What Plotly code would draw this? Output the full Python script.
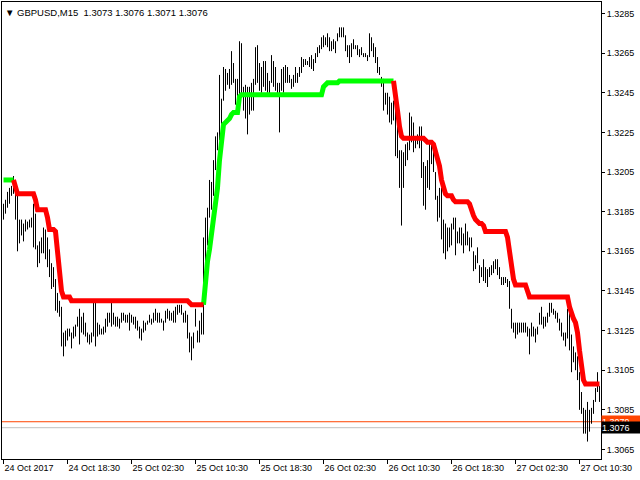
import plotly.graph_objects as go

symbol_header = "\u25BC GBPUSD,M15  1.3073 1.3076 1.3071 1.3076"

highs = [
 1.3189,1.3191,1.3195,1.3197,1.3198,1.3203,1.3200,1.3194,1.3181,1.3181,
 1.3179,1.3181,1.3180,1.3181,1.3182,1.3189,1.3184,1.3168,1.3170,1.3172,
 1.3177,1.3176,1.3172,1.3166,1.3159,1.3157,1.3151,1.3144,1.3140,1.3137,
 1.3124,1.3125,1.3126,1.3126,1.3124,1.3127,1.3128,1.3132,1.3136,1.3132,
 1.3134,1.3129,1.3124,1.3123,1.3124,1.3139,1.3139,1.3129,1.3128,1.3126,
 1.3127,1.3131,1.3134,1.3134,1.3139,1.3134,1.3132,1.3132,1.3131,1.3134,
 1.3134,1.3133,1.3133,1.3134,1.3133,1.3132,1.3132,1.3130,1.3127,1.3126,
 1.3130,1.3129,1.3130,1.3133,
 1.3131,1.3134,1.3136,1.3134,1.3134,1.3131,1.3130,1.3135,1.3136,1.3135,
 1.3134,1.3135,1.3137,1.3138,1.3138,1.3138,1.3134,1.3135,1.3133,1.3124,
 1.3122,1.3124,1.3136,1.3125,1.3130,1.3134,
 1.3172,1.3182,1.3187,1.3201,1.3200,1.3211,1.3223,1.3225,1.3254,1.3242,
 1.3258,1.3257,1.3255,1.3257,1.3266,1.3260,1.3252,1.3252,1.3271,1.3270,
 1.3248,1.3249,1.3248,1.3248,1.3250,1.3252,1.3268,1.3269,1.3260,1.3258,
 1.3261,1.3261,1.3255,1.3251,1.3264,1.3261,1.3258,1.3250,1.3250,1.3257,
 1.3258,1.3259,1.3258,1.3254,1.3252,1.3254,1.3258,1.3255,1.3258,
 1.3263,1.3262,1.3262,1.3261,1.3263,1.3264,1.3262,1.3265,1.3268,1.3269,
 1.3273,1.3274,1.3273,1.3275,1.3273,1.3271,1.3272,1.3271,1.3275,1.3278,
 1.3278,1.3278,1.3274,1.3269,1.3269,1.3270,1.3272,1.3269,1.3269,1.3267,
 1.3268,1.3265,1.3265,1.3264,1.3275,1.3273,1.3270,1.3268,1.3263,1.3258,
 1.3253,1.3252,1.3245,1.3245,1.3243,1.3240,1.3241,1.3239,1.3231,1.3216,
 1.3216,1.3215,1.3219,1.3220,1.3235,1.3233,1.3230,1.3222,1.3224,1.3228,
 1.3228,1.3210,1.3208,1.3211,1.3220,1.3219,1.3217,1.3205,1.3193,1.3197,
 1.3197,1.3181,1.3179,1.3177,1.3177,
 1.3179,1.3182,1.3182,1.3175,1.3177,1.3177,1.3174,1.3179,1.3175,1.3172,
 1.3172,1.3165,1.3163,1.3167,1.3158,1.3157,1.3161,1.3157,1.3156,1.3157,
 1.3158,1.3160,1.3161,1.3161,1.3157,1.3152,1.3152,1.3152,1.3151,1.3150,
 1.3136,1.3129,1.3129,1.3129,1.3129,1.3129,1.3129,1.3129,1.3127,1.3126,
 1.3129,1.3127,1.3126,1.3127,1.3134,1.3137,1.3132,1.3132,1.3134,1.3139,
 1.3139,1.3136,1.3135,1.3134,1.3131,1.3129,1.3124,1.3124,1.3136,1.3136,
 1.3123,1.3117,1.3114,1.3112,1.3104,1.3094,1.3086,1.3085,1.3089,1.3085,
 1.3086,1.3090,1.3096,1.3104,1.3097,
]

lows = [
 1.3181,1.3184,1.3187,1.3189,1.3193,1.3194,1.3181,1.3165,1.3169,1.3173,
 1.3170,1.3175,1.3176,1.3177,1.3177,1.3167,1.3166,1.3157,1.3159,1.3164,
 1.3164,1.3161,1.3157,1.3152,1.3146,1.3147,1.3135,1.3134,1.3132,1.3117,
 1.3112,1.3117,1.3120,1.3122,1.3116,1.3121,1.3122,1.3127,1.3118,1.3124,
 1.3123,1.3122,1.3119,1.3118,1.3119,1.3122,1.3117,1.3122,1.3123,1.3123,
 1.3123,1.3124,1.3127,1.3129,1.3127,1.3128,1.3127,1.3127,1.3126,1.3129,
 1.3130,1.3129,1.3129,1.3125,1.3129,1.3128,1.3126,1.3125,1.3121,1.3120,
 1.3124,1.3125,1.3128,1.3129,
 1.3128,1.3129,1.3130,1.3129,1.3129,1.3129,1.3125,1.3129,1.3131,1.3130,
 1.3130,1.3129,1.3129,1.3133,1.3134,1.3133,1.3129,1.3129,1.3121,1.3114,
 1.3110,1.3116,1.3127,1.3119,1.3119,1.3123,
 1.3123,1.3153,1.3168,1.3182,1.3186,1.3193,1.3206,1.3216,1.3221,1.3221,
 1.3241,1.3246,1.3249,1.3247,1.3249,1.3250,1.3239,1.3236,1.3244,1.3243,
 1.3236,1.3232,1.3224,1.3234,1.3236,1.3236,1.3249,1.3250,1.3246,1.3245,
 1.3248,1.3246,1.3245,1.3244,1.3250,1.3248,1.3246,1.3243,1.3225,1.3246,
 1.3245,1.3250,1.3250,1.3250,1.3247,1.3248,1.3250,1.3250,1.3253,
 1.3255,1.3258,1.3259,1.3259,1.3258,1.3257,1.3256,1.3260,1.3263,1.3265,
 1.3267,1.3268,1.3269,1.3268,1.3266,1.3266,1.3267,1.3265,1.3271,1.3273,
 1.3273,1.3273,1.3266,1.3263,1.3260,1.3263,1.3267,1.3267,1.3264,1.3263,
 1.3264,1.3263,1.3263,1.3261,1.3263,1.3266,1.3263,1.3260,1.3255,1.3254,
 1.3248,1.3236,1.3239,1.3234,1.3230,1.3229,1.3231,1.3213,1.3212,1.3197,
 1.3178,1.3197,1.3208,1.3211,1.3216,1.3220,1.3215,1.3217,1.3219,1.3217,
 1.3202,1.3188,1.3186,1.3197,1.3196,1.3209,1.3205,1.3191,1.3180,1.3182,
 1.3171,1.3164,1.3161,1.3165,1.3167,
 1.3168,1.3176,1.3163,1.3169,1.3169,1.3168,1.3164,1.3168,1.3168,1.3165,
 1.3167,1.3155,1.3156,1.3159,1.3149,1.3152,1.3150,1.3149,1.3147,1.3152,
 1.3153,1.3154,1.3156,1.3153,1.3151,1.3148,1.3148,1.3149,1.3147,1.3136,
 1.3126,1.3124,1.3121,1.3123,1.3124,1.3124,1.3124,1.3124,1.3122,1.3113,
 1.3122,1.3122,1.3119,1.3123,1.3128,1.3128,1.3126,1.3127,1.3129,1.3132,
 1.3134,1.3133,1.3131,1.3129,1.3125,1.3122,1.3120,1.3117,1.3121,1.3115,
 1.3104,1.3109,1.3105,1.3100,1.3085,1.3083,1.3073,1.3073,1.3069,1.3074,
 1.3078,1.3083,1.3089,1.3094,1.3089,
]

indicator = [
 1.3201,1.3201,1.3201,1.3201,1.3201,1.3201,1.3197,1.3194,1.3194,1.3194,
 1.3194,1.3194,1.3194,1.3194,1.3194,1.3194,1.3191,1.3186,1.3186,1.3186,
 1.3186,1.3186,1.3182,1.3176,1.3176,1.3176,1.3175,1.3163,1.3156,1.3145,
 1.3142,1.3142,1.3142,1.3142,1.3140,1.3140,1.3140,1.3140,1.3140,1.3140,
 1.3140,1.3140,1.3140,1.3140,1.3140,1.3140,1.3140,1.3140,1.3140,1.3140,
 1.3140,1.3140,1.3140,1.3140,1.3140,1.3140,1.3140,1.3140,1.3140,1.3140,
 1.3140,1.3140,1.3140,1.3140,1.3140,1.3140,1.3140,1.3140,1.3140,1.3140,
 1.3140,1.3140,1.3140,1.3140,1.3140,1.3140,1.3140,1.3140,1.3140,1.3140,
 1.3140,1.3140,1.3140,1.3140,1.3140,1.3140,1.3140,1.3140,1.3140,1.3140,
 1.3140,1.3140,1.3140,1.3139,1.3138,1.3138,1.3138,1.3138,1.3138,1.3138,
 1.3138,1.3152,1.3160,1.3166,1.3174,1.3186,1.3194,1.3197,1.3211,1.3220,
 1.3229,1.3230,1.3231,1.3232,1.3234,1.3235,1.3235,1.3235,1.3243,1.3244,
 1.3244,1.3244,1.3244,1.3244,1.3244,1.3244,1.3244,1.3244,1.3244,1.3244,
 1.3244,1.3244,1.3244,1.3244,1.3244,1.3244,1.3244,1.3244,1.3244,1.3244,
 1.3244,1.3244,1.3244,1.3244,1.3244,1.3244,1.3244,1.3244,1.3244,1.3244,
 1.3244,1.3244,1.3244,1.3244,1.3244,1.3244,1.3244,1.3244,1.3244,1.3244,
 1.3248,1.3249,1.3250,1.3250,1.3250,1.3250,1.3250,1.3250,1.3251,1.3251,
 1.3251,1.3251,1.3251,1.3251,1.3251,1.3251,1.3251,1.3251,1.3251,1.3251,
 1.3251,1.3251,1.3251,1.3251,1.3251,1.3251,1.3251,1.3251,1.3251,1.3251,
 1.3251,1.3251,1.3251,1.3251,1.3251,1.3251,1.3245,1.3236,1.3228,1.3223,
 1.3222,1.3222,1.3222,1.3222,1.3222,1.3222,1.3222,1.3222,1.3222,1.3222,
 1.3222,1.3221,1.3220,1.3220,1.3220,1.3219,1.3215,1.3213,1.3208,1.3201,
 1.3196,1.3194,1.3193,1.3193,1.3193,1.3191,1.3190,1.3190,1.3190,1.3190,
 1.3190,1.3190,1.3190,1.3189,1.3185,1.3183,1.3181,1.3180,1.3179,1.3179,
 1.3178,1.3175,1.3175,1.3175,1.3175,1.3175,1.3175,1.3175,1.3175,1.3175,
 1.3175,1.3175,1.3172,1.3164,1.3156,1.3151,1.3148,1.3148,1.3148,1.3148,
 1.3148,1.3148,1.3145,1.3142,1.3142,1.3142,1.3142,1.3142,1.3142,1.3142,
 1.3142,1.3142,1.3142,1.3142,1.3142,1.3142,1.3142,1.3142,1.3142,1.3142,
 1.3142,1.3142,1.3142,1.3137,1.3133,1.3131,1.3129,1.3124,1.3115,1.3109,
 1.3100,1.3098,1.3098,1.3098,1.3098,1.3098,1.3098,1.3098,1.3098,
]

up_segments = [(0, 5), (100, 195)]
down_segments = [(5, 100), (195, 298)]

tick_bars = [0, 32, 64, 96, 128, 160, 192, 224, 256, 288]
tick_labels = ["24 Oct 2017", "24 Oct 18:30", "25 Oct 02:30", "25 Oct 10:30",
               "25 Oct 18:30", "26 Oct 02:30", "26 Oct 10:30", "26 Oct 18:30",
               "27 Oct 02:30", "27 Oct 10:30"]
price_ticks = [1.3065, 1.3085, 1.3105, 1.3125, 1.3145, 1.3165, 1.3185,
               1.3205, 1.3225, 1.3245, 1.3265, 1.3285]
ask_price = 1.3079
bid_price = 1.3076

FONT = "Liberation Sans, Arial, sans-serif"

bx, by = [], []
for i, (h, l) in enumerate(zip(highs, lows)):
    bx += [i, i, None]
    by += [l, h, None]

def seg_series(segs):
    xs, ys = [], []
    for a, b in segs:
        for i in range(a, b + 1):
            xs.append(i)
            ys.append(indicator[i])
        xs.append(None)
        ys.append(None)
    return xs, ys

fig = go.Figure()
fig.add_trace(go.Scatter(x=bx, y=by, mode="lines",
                         line=dict(color="black", width=1), hoverinfo="skip"))
gx, gy = seg_series(up_segments)
rx, ry = seg_series(down_segments)
fig.add_trace(go.Scatter(x=gx, y=gy, mode="lines",
                         line=dict(color="#00FF00", width=5)))
fig.add_trace(go.Scatter(x=rx, y=ry, mode="lines",
                         line=dict(color="#FF0000", width=5)))

fig.add_shape(type="line", xref="paper", x0=0, x1=1, yref="y",
              y0=ask_price, y1=ask_price, line=dict(color="#FF4500", width=1),
              layer="below")
fig.add_shape(type="line", xref="paper", x0=0, x1=1, yref="y",
              y0=bid_price, y1=bid_price, line=dict(color="#C0C0C0", width=1),
              layer="below")

fig.add_annotation(xref="paper", yref="y", x=1, y=ask_price, xanchor="left",
                   yanchor="middle", text=f"{ask_price:.4f}", showarrow=False,
                   bgcolor="#FF4500", width=38, height=11, borderpad=0,
                   align="left", font=dict(family=FONT, size=9, color="white"))
fig.add_annotation(xref="paper", yref="y", x=1, y=bid_price, xanchor="left",
                   yanchor="middle", text=f"{bid_price:.4f}", showarrow=False,
                   bgcolor="black", width=38, height=11, borderpad=0,
                   align="left", font=dict(family=FONT, size=9, color="white"))
fig.add_annotation(xref="paper", yref="paper", x=0, y=0.976, xanchor="left",
                   yanchor="middle", text=symbol_header, showarrow=False,
                   bgcolor="white", borderpad=1, xshift=1,
                   font=dict(family=FONT, size=9.5, color="black"))

fig.update_xaxes(range=[-0.75, 298.75], tickvals=tick_bars, ticktext=tick_labels,
                 ticks="outside", ticklen=4, tickcolor="black",
                 ticklabelposition="outside right",
                 showline=True, linecolor="black", linewidth=1, mirror=True,
                 showgrid=False, zeroline=False,
                 tickfont=dict(family=FONT, size=9, color="black"))
fig.update_yaxes(range=[1.30602, 1.32908], side="right", tickvals=price_ticks,
                 tickformat=".4f", ticks="outside", ticklen=3, tickcolor="black",
                 showline=True, linecolor="black", linewidth=1, mirror=True,
                 showgrid=False, zeroline=False,
                 tickfont=dict(family=FONT, size=9, color="black"))
fig.update_layout(width=640, height=480, margin=dict(l=2, r=39, t=2, b=21),
                  showlegend=False, plot_bgcolor="white", paper_bgcolor="white")

fig.write_html("out.html", config={"displayModeBar": False},
               post_script="document.body.style.margin='0px';"
                           "document.body.style.overflow='hidden';")
